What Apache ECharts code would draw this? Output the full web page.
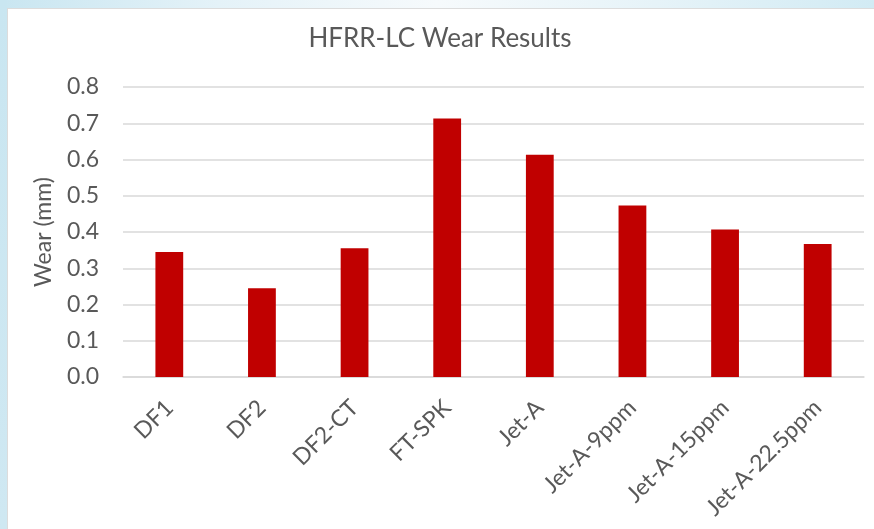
<!DOCTYPE html>
<html>
<head>
<meta charset="utf-8">
<title>HFRR-LC Wear Results</title>
<script src="https://cdn.jsdelivr.net/npm/echarts@6/dist/echarts.min.js"></script>
<style>
  html, body { margin: 0; padding: 0; }
  body {
    width: 874px; height: 529px; position: relative; overflow: hidden;
    background: linear-gradient(to right, #c9e6f1 0%, #e4f2f8 25%, #f6fafc 50%, #e6f3f8 75%, #d2ebf4 100%);
  }
  #edge {
    position: absolute; left: 0; top: 0; width: 7px; height: 529px;
    background: linear-gradient(to bottom, #c9e6f1 0%, #cfe8f2 100%);
  }
  #panel {
    position: absolute; left: 7px; top: 8px; right: 0; bottom: 0;
    background: #ffffff;
    border-left: 1px solid #dcdcdc; border-top: 1px solid #dcdcdc;
  }
  #chart { position: absolute; left: 0; top: 0; width: 874px; height: 529px; }
</style>
</head>
<body>
<div id="edge"></div>
<div id="panel"></div>
<div id="chart"></div>
<script>
// Fuel samples and their measured HFRR-LC wear scar (mm)
const fuels = ['DF1', 'DF2', 'DF2-CT', 'FT-SPK', 'Jet-A', 'Jet-A-9ppm', 'Jet-A-15ppm', 'Jet-A-22.5ppm'];
const wearMm = [0.345, 0.245, 0.355, 0.713, 0.613, 0.473, 0.407, 0.367];
const yTicks = { min: 0, max: 0.8, step: 0.1 };

const FONT = 'Lato, "Noto Sans", sans-serif';
const TEXT = '#595959';
const GRID = '#d9d9d9';

const chart = echarts.init(document.getElementById('chart'), null, { renderer: 'canvas' });
chart.setOption({
  backgroundColor: 'transparent',
  animation: false,
  title: {
    text: 'HFRR-LC Wear Results',
    left: 440,
    top: 26,
    textAlign: 'center',
    padding: 0,
    textStyle: { fontFamily: FONT, fontSize: 26, fontWeight: 'normal', color: TEXT }
  },
  grid: { left: 123, right: 10, top: 87, bottom: 152, containLabel: false },
  xAxis: {
    type: 'category',
    data: fuels,
    axisLine: { show: true, lineStyle: { color: GRID, width: 1.5 } },
    axisTick: { show: false },
    axisLabel: {
      rotate: 45,
      margin: 27,
      interval: 0,
      fontFamily: FONT,
      fontSize: 23,
      color: TEXT
    }
  },
  yAxis: {
    type: 'value',
    min: yTicks.min,
    max: yTicks.max,
    interval: yTicks.step,
    name: 'Wear (mm)',
    nameLocation: 'middle',
    nameGap: 68,
    nameRotate: 90,
    nameTextStyle: { fontFamily: FONT, fontSize: 23, color: TEXT },
    axisLine: { show: false },
    axisTick: { show: false },
    axisLabel: {
      margin: 24,
      fontFamily: FONT,
      fontSize: 23,
      color: TEXT,
      formatter: v => v.toFixed(1)
    },
    splitLine: { show: true, lineStyle: { color: GRID, width: 1.5 } }
  },
  series: [{
    type: 'bar',
    data: wearMm,
    barWidth: '30%',
    itemStyle: { color: '#c00000' }
  }]
});
</script>
</body>
</html>
